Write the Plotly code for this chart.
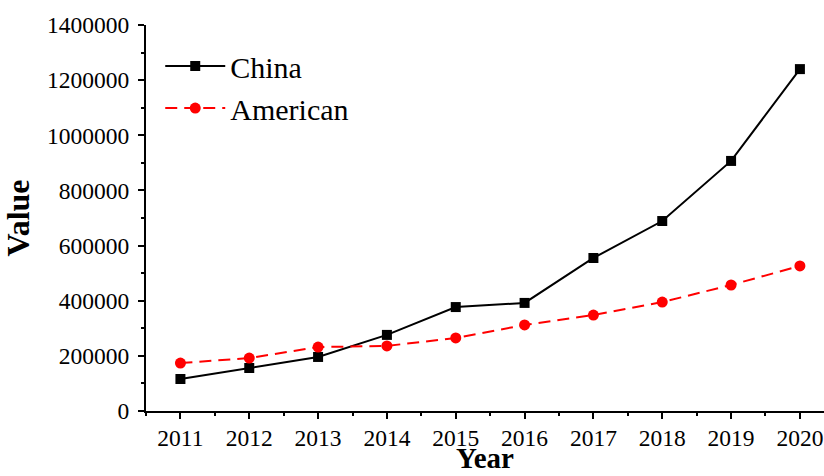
import plotly.graph_objects as go

years = [2011, 2012, 2013, 2014, 2015, 2016, 2017, 2018, 2019, 2020]
china = [116000, 156000, 196000, 276000, 377000, 392000, 555000, 689000, 907000, 1240000]
american = [174000, 192000, 232000, 236000, 265000, 312000, 348000, 395000, 457000, 526000]
y_ticks = [0, 200000, 400000, 600000, 800000, 1000000, 1200000, 1400000]

FONT = "Liberation Serif"

fig = go.Figure()
fig.add_trace(go.Scatter(
    x=years, y=china, name="China", mode="lines+markers",
    line=dict(color="black", width=2),
    marker=dict(symbol="square", size=10, color="black"),
))
fig.add_trace(go.Scatter(
    x=years, y=american, name="American", mode="lines+markers",
    line=dict(color="red", width=2, dash="12px,7px"),
    marker=dict(symbol="circle", size=11, color="red"),
))

axis_common = dict(
    showline=True, linecolor="black", linewidth=2,
    ticks="outside", tickwidth=2, ticklen=6, tickcolor="black",
    showgrid=False, zeroline=False, mirror=False, automargin=False,
    tickfont=dict(family=FONT, size=23.5, color="black"),
)

fig.update_xaxes(
    **axis_common,
    range=[2010.5, 2020.35],
    tickvals=years, ticktext=[str(y) for y in years],
    ticklabelstandoff=-1,
    minor=dict(ticks="outside", ticklen=3, tickwidth=2, tickcolor="black", dtick=0.5, tick0=2010.5),
)
fig.update_yaxes(
    **axis_common,
    range=[0, 1400000],
    tickvals=y_ticks, ticktext=[str(v) for v in y_ticks],
    ticklabelstandoff=4,
    minor=dict(ticks="outside", ticklen=3, tickwidth=2, tickcolor="black", dtick=100000, tick0=0),
    title=dict(text="<b>Value</b>", font=dict(family=FONT, size=32, color="black"), standoff=8),
)

# x-axis title sits just under the tick labels, at the bottom edge of the figure
fig.add_annotation(
    text="<b>Year</b>", xref="paper", yref="paper", x=0.5, y=-0.1684,
    xanchor="center", yanchor="bottom", showarrow=False,
    font=dict(family=FONT, size=29, color="black"),
)

fig.update_layout(
    width=824, height=476,
    margin=dict(l=146, r=0, t=25, b=65),
    paper_bgcolor="white", plot_bgcolor="white",
    showlegend=True,
    legend=dict(
        x=0.021, y=0.961, xanchor="left", yanchor="top",
        font=dict(family=FONT, size=30, color="black"),
        bgcolor="rgba(0,0,0,0)", itemwidth=60, tracegroupgap=0,
    ),
)

fig.write_html("out.html")
